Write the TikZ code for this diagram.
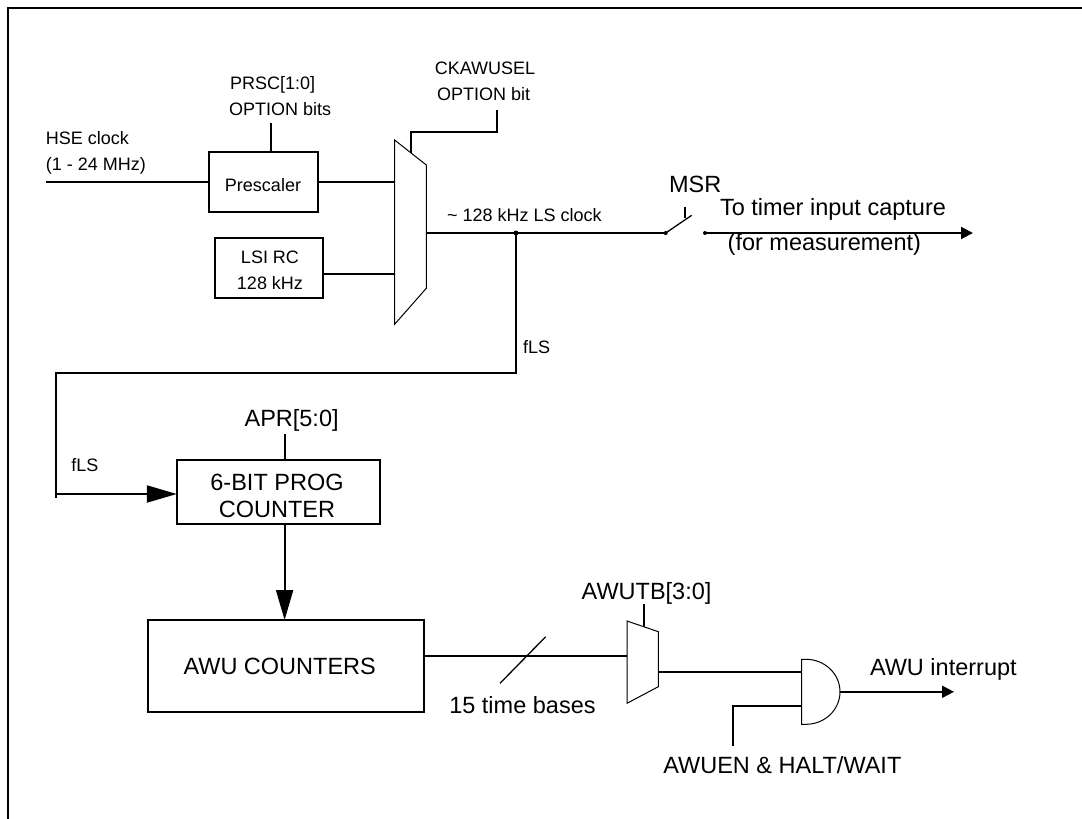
\documentclass[tikz,border=0pt]{standalone}
\usepackage{fontspec}
\setmainfont{Liberation Sans}
\usetikzlibrary{arrows.meta}
\tikzset{
  wire/.style={line width=2pt},
  fine/.style={line width=1pt},
  boxstyle/.style={draw, line width=2pt, inner sep=0pt, outer sep=0pt},
  lbls/.style={font=\fontsize{18}{22}\selectfont, inner sep=0pt, outer sep=0pt},
  lblb/.style={font=\fontsize{23.5}{28}\selectfont, inner sep=0pt, outer sep=0pt},
  bigtip/.style={-{Triangle[length=30pt,width=17pt]}},
  smalltip/.style={-{Triangle[length=12pt,width=12pt]}},
}
\begin{document}
\begin{tikzpicture}[x=1pt,y=-1pt]
\useasboundingbox (0,0) rectangle (1082,819);
% frame
\coordinate (frBL) at (7.5,819);
\coordinate (frTL) at (7.5,8);
\coordinate (frTR) at (1082,8);
\draw[wire] (frBL) -- (frTL) -- (frTR);

% boxes
\node[boxstyle, minimum width=108.5pt, minimum height=60pt] (presc) at (263.25,181.7) {};
\node[lbls, anchor=base] (presct) at (263,191) {Prescaler};
\node[boxstyle, minimum width=108.5pt, minimum height=60pt] (lsi) at (268.75,268.3) {};
\node[lbls, anchor=base] (lsit1) at (270,263.3) {LSI RC};
\node[lbls, anchor=base] (lsit2) at (270,289) {128 kHz};
\node[boxstyle, minimum width=202.8pt, minimum height=64.3pt] (prog) at (278.2,492.15) {};
\node[lblb, anchor=base] (progt1) at (277,490) {6-BIT PROG};
\node[lblb, anchor=base] (progt2) at (277,517.3) {COUNTER};
\node[boxstyle, minimum width=276.6pt, minimum height=91.7pt] (awu) at (286,665.85) {};
\node[lblb, anchor=base] (awut) at (279.7,674) {AWU COUNTERS};

% mux 1
\coordinate (m1a) at (394.6,140);
\coordinate (m1b) at (426.3,165);
\coordinate (m1c) at (426.3,288.3);
\coordinate (m1d) at (394.6,324.3);
\draw[fine] (m1a) -- (m1b) -- (m1c) -- (m1d) -- cycle;
\coordinate (m1in1) at (394.6,181.7);
\coordinate (m1in2) at (394.6,274.3);
\coordinate (m1out) at (426.3,233);
\coordinate (m1sel) at (410.5,152.5);

% inputs
\coordinate (hse) at (45.8,181.7);
\draw[wire] (hse) -- (presc.west);
\draw[wire] (presc.east) -- (m1in1);
\draw[wire] (m1in2 -| lsi.east) -- (m1in2);
\coordinate (prsc) at (271,122.7);
\draw[wire] (prsc) -- (prsc |- presc.north);
\coordinate (selbend) at (496.6,131.7);
\coordinate (seltop) at (496.6,110);
\draw[wire] (m1sel) |- (selbend) -- (seltop);

% output and switch
\coordinate (junc) at (515.9,233);
\coordinate (swl) at (665.7,233);
\coordinate (swlev) at (691.7,215.3);
\coordinate (swtka) at (685,206.7);
\coordinate (swtkb) at (685,218.3);
\coordinate (swr) at (705,233);
\coordinate (tmr) at (973,233);
\draw[wire] (m1out) -- (junc) -- (swl);
\fill (junc) circle (2.5pt);
\fill (swl) circle (2pt);
\fill (swr) circle (2pt);
\draw[line width=1.3pt] (swl) -- (swlev);
\draw[line width=1.3pt] (swtka) -- (swtkb);
\draw[wire, smalltip] (swr) -- (tmr);

% fLS path
\coordinate (fa) at (515.9,373.3);
\coordinate (fb) at (56,373.3);
\coordinate (fc) at (56,498.3);
\coordinate (fd) at (56,494);
\draw[wire] (junc) -- (fa) -- (fb) -- (fc);
\draw[wire, bigtip] (fd) -- (fd -| prog.west);

% APR
\coordinate (apr) at (284.6,434.3);
\draw[wire] (apr) -- (apr |- prog.north);
\draw[wire, bigtip] (apr |- prog.south) -- (apr |- awu.north);

% mux 2
\coordinate (m2a) at (627,621);
\coordinate (m2b) at (658.3,631.7);
\coordinate (m2c) at (658.3,686.7);
\coordinate (m2d) at (627,703.3);
\draw[fine] (m2a) -- (m2b) -- (m2c) -- (m2d) -- cycle;
\coordinate (m2in) at (627,656);
\coordinate (m2out) at (658.3,671.7);
\coordinate (m2sel) at (644.3,626.9);
\draw[wire] (m2in -| awu.east) -- (m2in);
\coordinate (slasha) at (500,683.3);
\coordinate (slashb) at (545.7,636.7);
\draw[line width=1.3pt] (slasha) -- (slashb);
\coordinate (awutb) at (644.3,604.3);
\draw[wire] (awutb) -- (m2sel);

% AND gate
\coordinate (anda) at (801.7,659.3);
\coordinate (andb) at (806,659.3);
\coordinate (andc) at (801.7,724.3);
\draw[fine] (andc) -- (anda) -- (andb) arc[start angle=90, end angle=-90, x radius=34pt, y radius=32.5pt] -- cycle;
\coordinate (andin1) at (801.7,671.7);
\coordinate (andin2) at (801.7,705.7);
\coordinate (andout) at (840,691.8);
\coordinate (awuen) at (733.3,746);
\draw[wire] (m2out) -- (andin1);
\draw[wire] (awuen) |- (andin2);
\coordinate (irq) at (954,691.8);
\draw[wire, smalltip] (andout) -- (irq);

% labels
\node[lbls, anchor=base west] (hset1) at (45.8,144.3) {HSE clock};
\node[lbls, anchor=base west] (hset2) at (45.8,170.7) {(1 - 24 MHz)};
\node[lbls, anchor=base west] (prsct1) at (230,89) {PRSC[1:0]};
\node[lbls, anchor=base west] (prsct2) at (229,115) {OPTION bits};
\node[lbls, anchor=base] (ckt1) at (485,74.7) {CKAWUSEL};
\node[lbls, anchor=base west] (ckt2) at (437,100.7) {OPTION bit};
\node[lbls, anchor=base west] (lsclk) at (447,221.7) {\textasciitilde{} 128 kHz LS clock};
\node[lblb, anchor=base west] (msr) at (669,192.7) {MSR};
\node[lblb, anchor=base west] (tmrta) at (720,215.7) {To timer input capture};
\node[lblb, anchor=base west] (tmrtb) at (727.7,250) {(for measurement)};
\node[lbls, anchor=base west] (flsa) at (523,353.3) {fLS};
\node[lbls, anchor=base west] (flsb) at (71.4,471.7) {fLS};
\node[lblb, anchor=base] (aprt) at (291.6,426) {APR[5:0]};
\node[lblb, anchor=base west] (awutbt) at (581.7,599.3) {AWUTB[3:0]};
\node[lblb, anchor=base west] (tbt) at (449.3,713.3) {15 time bases};
\node[lblb, anchor=base west] (irqt) at (870,675) {AWU interrupt};
\node[lblb, anchor=base west] (awuent) at (663.3,773.3) {AWUEN \& HALT/WAIT};
\end{tikzpicture}
\end{document}
